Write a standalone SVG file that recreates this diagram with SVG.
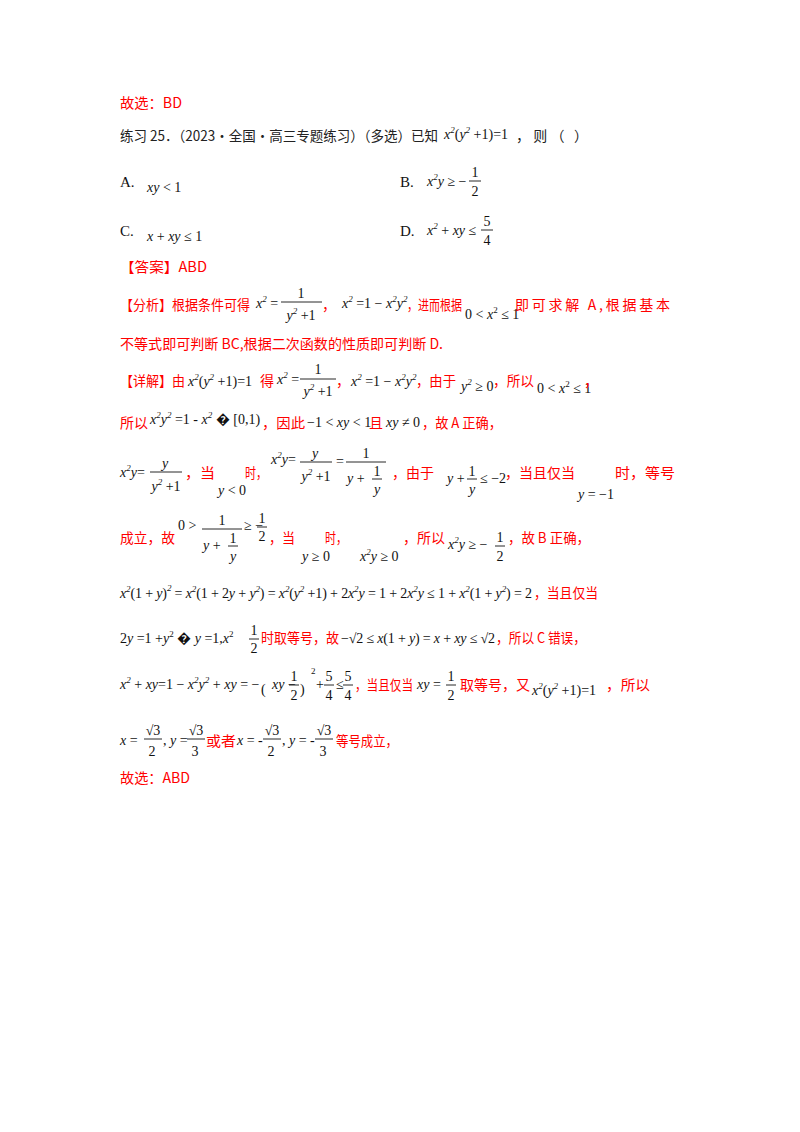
<svg xmlns="http://www.w3.org/2000/svg" width="800" height="1132" viewBox="0 0 800 1132">
<style>
.c{font-family:"Noto Sans CJK SC",sans-serif;font-size:14px;fill:#f00}
.k{font-family:"Noto Sans CJK SC",sans-serif;font-size:14px;fill:#222}
.m{font-family:"Liberation Serif",serif;font-size:14px;font-style:italic;fill:#111}
.n{font-family:"Liberation Serif",serif;font-size:14px;font-style:normal;fill:#111}
.s{font-size:9px}
.b{font-family:"Liberation Serif",serif;font-size:15px;fill:#111}
line{stroke:#111;stroke-width:0.9}
</style>
<rect width="800" height="1132" fill="#fff"/>
<g id="header">
<text x="120" y="108" class="c" textLength="62" lengthAdjust="spacingAndGlyphs">故选：BD</text>
<text x="120" y="141" class="k" textLength="318" lengthAdjust="spacingAndGlyphs">练习 25．（2023·全国·高三专题练习）（多选）已知</text>
<text x="444" y="139" class="m">x<tspan class="s" dy="-6">2</tspan><tspan dy="6" class="n" font-size="18px">(</tspan>y<tspan class="s" dy="-6">2</tspan><tspan dy="6" class="n"> +1</tspan><tspan class="n" font-size="18px">)</tspan><tspan class="n">=1</tspan></text>
<text x="516" y="141" class="k" textLength="72" lengthAdjust="spacing">，则（    ）</text>
</g>
<g id="options">
<text x="120" y="187" class="b">A.</text>
<text x="147" y="192" class="m">xy<tspan class="n"> &lt; 1</tspan></text>
<text x="400" y="187" class="b">B.</text>
<text x="427" y="186" class="m">x<tspan class="s" dy="-6">2</tspan><tspan dy="6">y</tspan><tspan class="n"> ≥ −</tspan></text>
<text x="475" y="177" class="n" text-anchor="middle">1</text><line x1="469" y1="181" x2="481" y2="181"/><text x="475" y="196" class="n" text-anchor="middle">2</text>
<text x="120" y="236" class="b">C.</text>
<text x="147" y="241" class="m">x<tspan class="n"> + </tspan>xy<tspan class="n"> ≤ 1</tspan></text>
<text x="400" y="236" class="b">D.</text>
<text x="427" y="235" class="m">x<tspan class="s" dy="-6">2</tspan><tspan dy="6" class="n"> + </tspan>xy<tspan class="n"> ≤</tspan></text>
<text x="487" y="226" class="n" text-anchor="middle">5</text><line x1="481" y1="230" x2="493" y2="230"/><text x="487" y="245" class="n" text-anchor="middle">4</text>
</g>
<g id="answer">
<text x="120" y="272" class="c" textLength="87" lengthAdjust="spacingAndGlyphs">【答案】ABD</text>
</g>
<g id="analysis">
<text x="120" y="310" class="c" textLength="130" lengthAdjust="spacingAndGlyphs">【分析】根据条件可得</text>
<text x="256" y="308" class="m">x<tspan class="s" dy="-6">2</tspan><tspan dy="6" class="n"> =</tspan></text>
<text x="301" y="298" class="n" text-anchor="middle">1</text><line x1="281" y1="302" x2="322" y2="302"/><text x="301" y="320" class="m" text-anchor="middle">y<tspan class="s" dy="-6">2</tspan><tspan class="n" dy="6"> +1</tspan></text>
<text x="322" y="310" class="c">，</text>
<text x="342" y="308" class="m">x<tspan class="s" dy="-6">2</tspan><tspan dy="6" class="n"> =1 − </tspan>x<tspan class="s" dy="-6">2</tspan><tspan dy="6">y</tspan><tspan class="s" dy="-6">2</tspan></text>
<text x="407" y="310" class="c" textLength="55" lengthAdjust="spacingAndGlyphs">，进而根据</text>
<text x="465" y="319" class="n">0 &lt; <tspan class="m">x</tspan><tspan class="s" dy="-6">2</tspan><tspan dy="6"> ≤ 1</tspan></text>
<text x="515" y="310" class="c" textLength="155" lengthAdjust="spacing">即可求解 A,根据基本</text>
<text x="120" y="349" class="c" textLength="323" lengthAdjust="spacingAndGlyphs">不等式即可判断 BC,根据二次函数的性质即可判断 D.</text>
</g>
<g id="detail">
<text x="120" y="386" class="c" textLength="65" lengthAdjust="spacingAndGlyphs">【详解】由</text>
<text x="188" y="386" class="m">x<tspan class="s" dy="-6">2</tspan><tspan dy="6" class="n" font-size="18px">(</tspan>y<tspan class="s" dy="-6">2</tspan><tspan dy="6" class="n"> +1</tspan><tspan class="n" font-size="18px">)</tspan><tspan class="n">=1</tspan></text>
<text x="260" y="386" class="c">得</text>
<text x="277" y="384" class="m">x<tspan class="s" dy="-6">2</tspan><tspan dy="6" class="n"> =</tspan></text>
<text x="318" y="374" class="n" text-anchor="middle">1</text><line x1="300" y1="379" x2="336" y2="379"/><text x="318" y="396" class="m" text-anchor="middle">y<tspan class="s" dy="-6">2</tspan><tspan class="n" dy="6"> +1</tspan></text>
<text x="336" y="386" class="c">，</text>
<text x="351" y="386" class="m">x<tspan class="s" dy="-6">2</tspan><tspan dy="6" class="n"> =1 − </tspan>x<tspan class="s" dy="-6">2</tspan><tspan dy="6">y</tspan><tspan class="s" dy="-6">2</tspan></text>
<text x="416" y="386" class="c" textLength="40" lengthAdjust="spacingAndGlyphs">，由于</text>
<text x="461" y="391" class="m">y<tspan class="s" dy="-6">2</tspan><tspan dy="6" class="n"> ≥ 0</tspan></text>
<text x="493" y="386" class="c" textLength="41" lengthAdjust="spacingAndGlyphs">，所以</text>
<text x="537" y="393" class="n">0 &lt; <tspan class="m">x</tspan><tspan class="s" dy="-6">2</tspan><tspan dy="6"> ≤ 1</tspan></text>
<text x="584" y="386" class="c">，</text>

<text x="120" y="428" class="c" textLength="28" lengthAdjust="spacingAndGlyphs">所以</text>
<text x="150" y="424" class="m">x<tspan class="s" dy="-6">2</tspan><tspan dy="6">y</tspan><tspan class="s" dy="-6">2</tspan><tspan dy="6" class="n"> =1 - </tspan>x<tspan class="s" dy="-6">2</tspan><tspan dy="6" class="n"> � </tspan><tspan class="n" font-size="18px">[</tspan><tspan class="n">0,1</tspan><tspan class="n" font-size="18px">)</tspan></text>
<text x="262" y="428" class="c" textLength="43" lengthAdjust="spacingAndGlyphs">，因此</text>
<text x="307" y="427" class="n">−1 &lt; <tspan class="m">xy</tspan> &lt; 1</text>
<text x="369" y="428" class="c">且</text>
<text x="386" y="427" class="m">xy<tspan class="n"> ≠ 0</tspan></text>
<text x="422" y="428" class="c" textLength="80" lengthAdjust="spacingAndGlyphs">，故 A 正确，</text>

<text x="120" y="477" class="m">x<tspan class="s" dy="-6">2</tspan><tspan dy="6">y</tspan><tspan class="n">=</tspan></text>
<text x="165" y="468" class="m" text-anchor="middle">y</text><line x1="150" y1="472" x2="182" y2="472"/><text x="166" y="491" class="m" text-anchor="middle">y<tspan class="s" dy="-6">2</tspan><tspan class="n" dy="6"> +1</tspan></text>
<text x="185" y="478" class="c" textLength="30" lengthAdjust="spacingAndGlyphs">，当</text>
<text x="218" y="495" class="m">y<tspan class="n"> &lt; 0</tspan></text>
<text x="245" y="478" class="c" textLength="22" lengthAdjust="spacingAndGlyphs">时，</text>
<text x="271" y="464" class="m">x<tspan class="s" dy="-6">2</tspan><tspan dy="6">y</tspan><tspan class="n">=</tspan></text>
<text x="315" y="458" class="m" text-anchor="middle">y</text><line x1="300" y1="462" x2="332" y2="462"/><text x="316" y="481" class="m" text-anchor="middle">y<tspan class="s" dy="-6">2</tspan><tspan class="n" dy="6"> +1</tspan></text>
<text x="336" y="466" class="n">=</text>
<text x="366" y="458" class="n" text-anchor="middle">1</text><line x1="346" y1="462" x2="386" y2="462"/><text x="347" y="483" class="m">y<tspan class="n"> +</tspan></text>
<text x="377" y="476" class="n" text-anchor="middle">1</text><line x1="372" y1="479" x2="382" y2="479"/><text x="377" y="494" class="m" text-anchor="middle">y</text>
<text x="392" y="478" class="c">，由于</text>
<text x="447" y="483" class="m">y<tspan class="n"> +</tspan></text>
<text x="472" y="476" class="n" text-anchor="middle">1</text><line x1="467" y1="479" x2="477" y2="479"/><text x="472" y="494" class="m" text-anchor="middle">y</text>
<text x="480" y="483" class="n">≤ −2</text>
<text x="505" y="478" class="c" textLength="70" lengthAdjust="spacingAndGlyphs">，当且仅当</text>
<text x="578" y="499" class="m">y<tspan class="n"> = −1</tspan></text>
<text x="615" y="478" class="c" textLength="60" lengthAdjust="spacingAndGlyphs">时，等号</text>

<text x="120" y="543" class="c" textLength="55" lengthAdjust="spacingAndGlyphs">成立，故</text>
<text x="178" y="530" class="n">0 &gt;</text>
<text x="222" y="525" class="n" text-anchor="middle">1</text><line x1="202" y1="529" x2="242" y2="529"/><text x="203" y="550" class="m">y<tspan class="n"> +</tspan></text>
<text x="233" y="543" class="n" text-anchor="middle">1</text><line x1="228" y1="546" x2="238" y2="546"/><text x="233" y="561" class="m" text-anchor="middle">y</text>
<text x="244" y="530" class="n">≥ −</text>
<text x="262" y="523" class="n" text-anchor="middle">1</text><line x1="257" y1="527" x2="267" y2="527"/><text x="262" y="541" class="n" text-anchor="middle">2</text>
<text x="269" y="543" class="c" textLength="26" lengthAdjust="spacingAndGlyphs">，当</text>
<text x="302" y="561" class="m">y<tspan class="n"> ≥ 0</tspan></text>
<text x="325" y="543" class="c" textLength="22" lengthAdjust="spacingAndGlyphs">时，</text>
<text x="360" y="561" class="m">x<tspan class="s" dy="-6">2</tspan><tspan dy="6">y</tspan><tspan class="n"> ≥ 0</tspan></text>
<text x="403" y="543" class="c" textLength="42" lengthAdjust="spacingAndGlyphs">，所以</text>
<text x="448" y="549" class="m">x<tspan class="s" dy="-6">2</tspan><tspan dy="6">y</tspan><tspan class="n"> ≥ −</tspan></text>
<text x="500" y="542" class="n" text-anchor="middle">1</text><line x1="495" y1="546" x2="505" y2="546"/><text x="500" y="561" class="n" text-anchor="middle">2</text>
<text x="508" y="543" class="c" textLength="82" lengthAdjust="spacingAndGlyphs">，故 B 正确，</text>

<text x="120" y="598" class="m" textLength="412" lengthAdjust="spacing">x<tspan class="s" dy="-6">2</tspan><tspan dy="6" class="n" font-size="18px">(</tspan><tspan class="n">1 + </tspan>y<tspan class="n" font-size="18px">)</tspan><tspan class="s" dy="-7">2</tspan><tspan dy="7" class="n"> = </tspan>x<tspan class="s" dy="-6">2</tspan><tspan dy="6" class="n" font-size="18px">(</tspan><tspan class="n">1 + 2</tspan>y<tspan class="n"> + </tspan>y<tspan class="s" dy="-6">2</tspan><tspan dy="6" class="n" font-size="18px">)</tspan><tspan class="n"> = </tspan>x<tspan class="s" dy="-6">2</tspan><tspan dy="6" class="n" font-size="18px">(</tspan>y<tspan class="s" dy="-6">2</tspan><tspan dy="6" class="n"> +1</tspan><tspan class="n" font-size="18px">)</tspan><tspan class="n"> + 2</tspan>x<tspan class="s" dy="-6">2</tspan><tspan dy="6">y</tspan><tspan class="n"> = 1 + 2</tspan>x<tspan class="s" dy="-6">2</tspan><tspan dy="6">y</tspan><tspan class="n"> ≤ 1 + </tspan>x<tspan class="s" dy="-6">2</tspan><tspan dy="6" class="n" font-size="18px">(</tspan><tspan class="n">1 + </tspan>y<tspan class="s" dy="-6">2</tspan><tspan dy="6" class="n" font-size="18px">)</tspan><tspan class="n"> = 2</tspan></text>
<text x="534" y="598" class="c" textLength="64" lengthAdjust="spacingAndGlyphs">，当且仅当</text>

<text x="120" y="643" class="n">2<tspan class="m">y</tspan> =1 +<tspan class="m">y</tspan><tspan class="s" dy="-6">2</tspan><tspan dy="6"> �  </tspan><tspan class="m">y</tspan> =1,<tspan class="m">x</tspan><tspan class="s" dy="-6">2</tspan></text>
<text x="254" y="635" class="n" text-anchor="middle">1</text><line x1="249" y1="639" x2="259" y2="639"/><text x="254" y="653" class="n" text-anchor="middle">2</text>
<text x="261" y="643" class="c" textLength="78" lengthAdjust="spacingAndGlyphs">时取等号，故</text>
<text x="341" y="643" class="n" textLength="154" lengthAdjust="spacing">−√2 ≤ <tspan class="m">x</tspan>(1 + <tspan class="m">y</tspan>) = <tspan class="m">x</tspan> + <tspan class="m">xy</tspan> ≤ √2</text>
<text x="496" y="643" class="c" textLength="90" lengthAdjust="spacingAndGlyphs">，所以 C 错误，</text>

<text x="120" y="689" class="m">x<tspan class="s" dy="-6">2</tspan><tspan dy="6" class="n"> + </tspan>xy<tspan class="n">=1 − </tspan>x<tspan class="s" dy="-6">2</tspan><tspan dy="6">y</tspan><tspan class="s" dy="-6">2</tspan><tspan dy="6" class="n"> + </tspan>xy<tspan class="n"> = −</tspan></text>
<text x="261" y="694" class="n" font-size="30px">(</text>
<text x="272" y="689" class="m">xy<tspan class="n"> −</tspan></text>
<text x="294" y="681" class="n" text-anchor="middle">1</text><line x1="289" y1="685" x2="299" y2="685"/><text x="294" y="700" class="n" text-anchor="middle">2</text>
<text x="300" y="694" class="n" font-size="30px">)</text>
<text x="311" y="674" class="n s">2</text>
<text x="316" y="689" class="n">+</text>
<text x="329" y="681" class="n" text-anchor="middle">5</text><line x1="324" y1="685" x2="334" y2="685"/><text x="329" y="700" class="n" text-anchor="middle">4</text>
<text x="336" y="689" class="n">≤</text>
<text x="348" y="681" class="n" text-anchor="middle">5</text><line x1="343" y1="685" x2="353" y2="685"/><text x="348" y="700" class="n" text-anchor="middle">4</text>
<text x="355" y="690" class="c" textLength="58" lengthAdjust="spacingAndGlyphs">，当且仅当</text>
<text x="417" y="689" class="m">xy<tspan class="n"> =</tspan></text>
<text x="451" y="681" class="n" text-anchor="middle">1</text><line x1="446" y1="685" x2="456" y2="685"/><text x="451" y="700" class="n" text-anchor="middle">2</text>
<text x="460" y="690" class="c" textLength="70" lengthAdjust="spacingAndGlyphs">取等号，又</text>
<text x="532" y="695" class="m">x<tspan class="s" dy="-6">2</tspan><tspan dy="6" class="n" font-size="18px">(</tspan>y<tspan class="s" dy="-6">2</tspan><tspan dy="6" class="n"> +1</tspan><tspan class="n" font-size="18px">)</tspan><tspan class="n">=1</tspan></text>
<text x="606" y="690" class="c" textLength="44" lengthAdjust="spacingAndGlyphs">，所以</text>

<text x="120" y="745" class="m">x<tspan class="n"> =</tspan></text>
<text x="153" y="735" class="n" text-anchor="middle">√3</text><line x1="144" y1="739" x2="162" y2="739"/><text x="152" y="756" class="n" text-anchor="middle">2</text>
<text x="163" y="745" class="n">, <tspan class="m">y</tspan> =</text>
<text x="196" y="735" class="n" text-anchor="middle">√3</text><line x1="187" y1="739" x2="205" y2="739"/><text x="195" y="756" class="n" text-anchor="middle">3</text>
<text x="206" y="746" class="c" textLength="30" lengthAdjust="spacingAndGlyphs">或者</text>
<text x="237" y="745" class="m">x<tspan class="n"> = - </tspan></text>
<text x="272" y="735" class="n" text-anchor="middle">√3</text><line x1="263" y1="739" x2="281" y2="739"/><text x="271" y="756" class="n" text-anchor="middle">2</text>
<text x="282" y="745" class="n">, <tspan class="m">y</tspan> = - </text>
<text x="324" y="735" class="n" text-anchor="middle">√3</text><line x1="315" y1="739" x2="333" y2="739"/><text x="323" y="756" class="n" text-anchor="middle">3</text>
<text x="336" y="746" class="c" textLength="62" lengthAdjust="spacingAndGlyphs">等号成立，</text>
<text x="120" y="783" class="c" textLength="70" lengthAdjust="spacingAndGlyphs">故选：ABD</text>
</g>
</svg>
